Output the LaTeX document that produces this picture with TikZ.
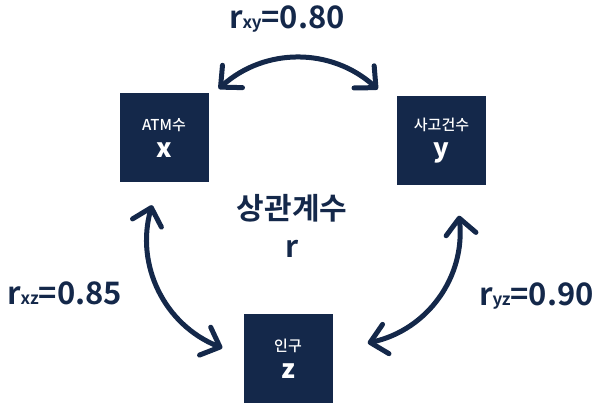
\documentclass[tikz,border=0pt]{standalone}
\usepackage{fontspec}
\setmainfont{Noto Sans CJK KR}[BoldFont={Noto Sans CJK KR Bold}]
\newfontfamily\medfont{Noto Sans CJK KR Medium}
\usetikzlibrary{arrows.meta,positioning}
\definecolor{navy}{RGB}{20,40,74}

\begin{document}
\begin{tikzpicture}[x=1pt, y=1pt,
  varbox/.style={fill=navy, minimum width=89pt, minimum height=89pt, inner sep=0pt, text=white, align=center, font=\fontsize{15}{17}\selectfont\medfont},
  coef/.style={text=navy, inner sep=0pt, font=\fontsize{31}{31}\selectfont\bfseries},
  link/.style={draw=navy, line width=5pt, {Straight Barb[length=16pt,width=30pt,round]}-{Straight Barb[length=16pt,width=30pt,round]}}]
  \useasboundingbox (0,0) rectangle (600,403);
  \node[varbox] (x) at (164,265.5) {ATM수\\[10pt]\fontsize{26}{27}\selectfont\bfseries x};
  \node[varbox] (y) at (441.5,262) {사고건수\\[10pt]\fontsize{26}{27}\selectfont\bfseries y};
  \node[varbox] (z) at (288,44.5) {인구\\[10pt]\fontsize{26}{27}\selectfont\bfseries z};
  \node[coef, align=center, font=\fontsize{30}{38}\selectfont\bfseries] (r) at (292,177.5) {상관계수\\r};
  % coefficients
  \node[coef, anchor=base] (rxy) at (287,374) {r{\fontsize{17}{17}\selectfont xy}=0.80};
  \node[coef, anchor=base] (rxz) at (64.5,98) {r{\fontsize{17}{17}\selectfont xz}=0.85};
  \node[coef, anchor=base] (ryz) at (536.5,97) {r{\fontsize{17}{17}\selectfont yz}=0.90};
  \draw[link] ([shift={(10,4)}]x.north east) to[bend left=42] ([shift={(-19,7)}]y.north west);
  \draw[link] ([shift={(-12,-23)}]x.south) to[bend right=42] ([shift={(-21,10.5)}]z.west);
  \draw[link] ([shift={(17.5,-30)}]y.south) to[bend left=42] ([shift={(35,15.5)}]z.east);
\end{tikzpicture}
\end{document}
